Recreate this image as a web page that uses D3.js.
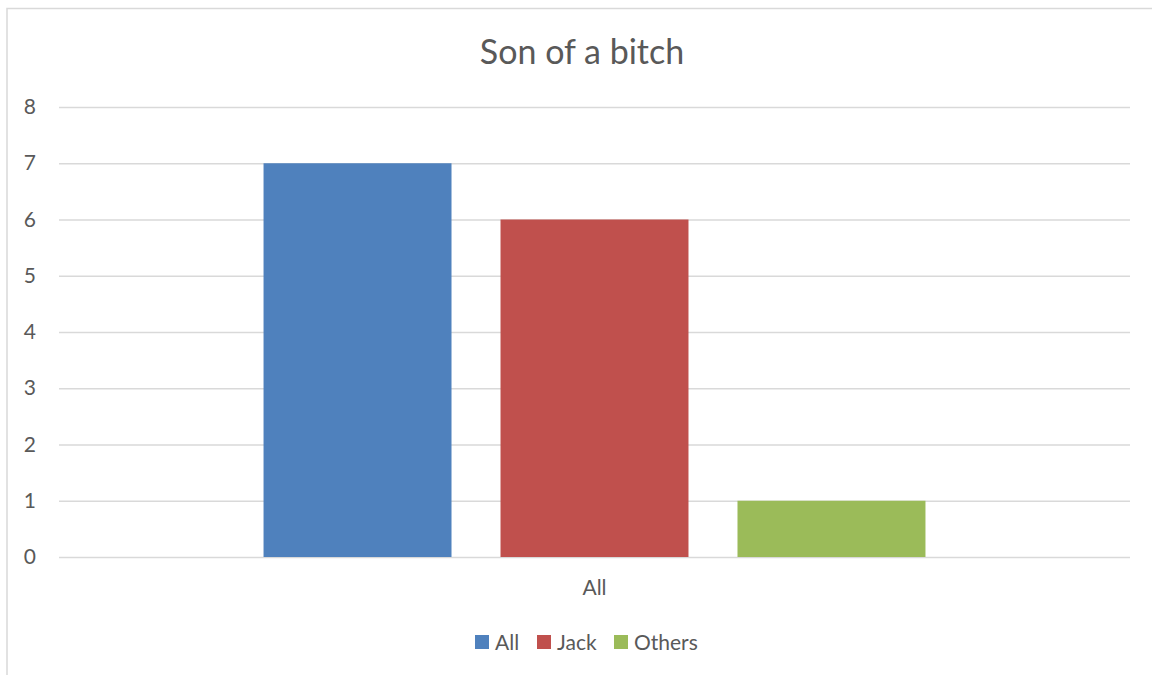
<!DOCTYPE html>
<html>
<head>
<meta charset="utf-8">
<script src="https://cdn.jsdelivr.net/npm/d3@7"></script>
<style>
  html, body { margin: 0; padding: 0; background: #fff; }
  svg { display: block; font-family: Lato, "Open Sans", sans-serif; }
</style>
</head>
<body>
<svg id="chart" width="1152" height="675"></svg>
<script>
const title = "Son of a bitch";
const categories = ["All"];
const seriesNames = ["All", "Jack", "Others"];
const seriesValues = [7, 6, 1];
const seriesColors = ["#4f81bd", "#c0504d", "#9bbb59"];
const yTicks = [0, 1, 2, 3, 4, 5, 6, 7, 8];

const svg = d3.select("#chart");
const W = 1152, H = 675;
const plot = { left: 59, right: 1130, top: 107, bottom: 557 };
const FONT = "Lato, 'Open Sans', sans-serif";

// outer chart border (cropped at right/bottom)
svg.append("rect")
  .attr("x", 7).attr("y", 8.5)
  .attr("width", W + 20).attr("height", H + 20)
  .attr("fill", "#fff").attr("stroke", "#d9d9d9").attr("stroke-width", 1.5);

const y = d3.scaleLinear().domain([0, 8]).range([plot.bottom, plot.top]);
const x0 = d3.scaleBand().domain(categories).range([plot.left, plot.right])
  .paddingInner(0).paddingOuter(0.309);
const x1 = d3.scaleBand().domain(seriesNames).range([0, x0.bandwidth()])
  .paddingInner(0.2068).paddingOuter(0);

// gridlines + y labels
const yAxis = d3.axisLeft(y).tickValues(yTicks).tickSize(-(plot.right - plot.left)).tickPadding(23);
const gy = svg.append("g").attr("transform", `translate(${plot.left},0)`).call(yAxis);
gy.select(".domain").remove();
gy.selectAll(".tick line").attr("stroke", "#d9d9d9").attr("stroke-width", 1.5);
gy.selectAll(".tick text").attr("fill", "#595959").attr("font-size", 21).attr("font-family", FONT);

// bars
const g = svg.append("g");
categories.forEach(cat => {
  g.selectAll(null).data(seriesNames.map((s, i) => ({ s, v: seriesValues[i], c: seriesColors[i] })))
    .enter().append("rect")
    .attr("x", d => x0(cat) + x1(d.s))
    .attr("y", d => y(d.v))
    .attr("width", x1.bandwidth())
    .attr("height", d => y(0) - y(d.v))
    .attr("fill", d => d.c);
});

// category axis
const xAxis = d3.axisBottom(x0).tickSize(0).tickPadding(23);
const gx = svg.append("g").attr("transform", `translate(0,${plot.bottom})`).call(xAxis);
gx.select(".domain").remove();
gx.selectAll(".tick text").attr("fill", "#595959").attr("font-size", 21).attr("font-family", FONT);

// title
svg.append("text").attr("x", 582).attr("y", 64).attr("text-anchor", "middle")
  .attr("fill", "#595959").attr("font-size", 34).text(title);

// legend
const legendX = [475, 537, 614];
const lg = svg.append("g");
seriesNames.forEach((s, i) => {
  lg.append("rect").attr("x", legendX[i]).attr("y", 635).attr("width", 14).attr("height", 14)
    .attr("fill", seriesColors[i]);
  lg.append("text").attr("x", legendX[i] + 20).attr("y", 650).attr("fill", "#595959")
    .attr("font-size", 21).text(s);
});
</script>
</body>
</html>
